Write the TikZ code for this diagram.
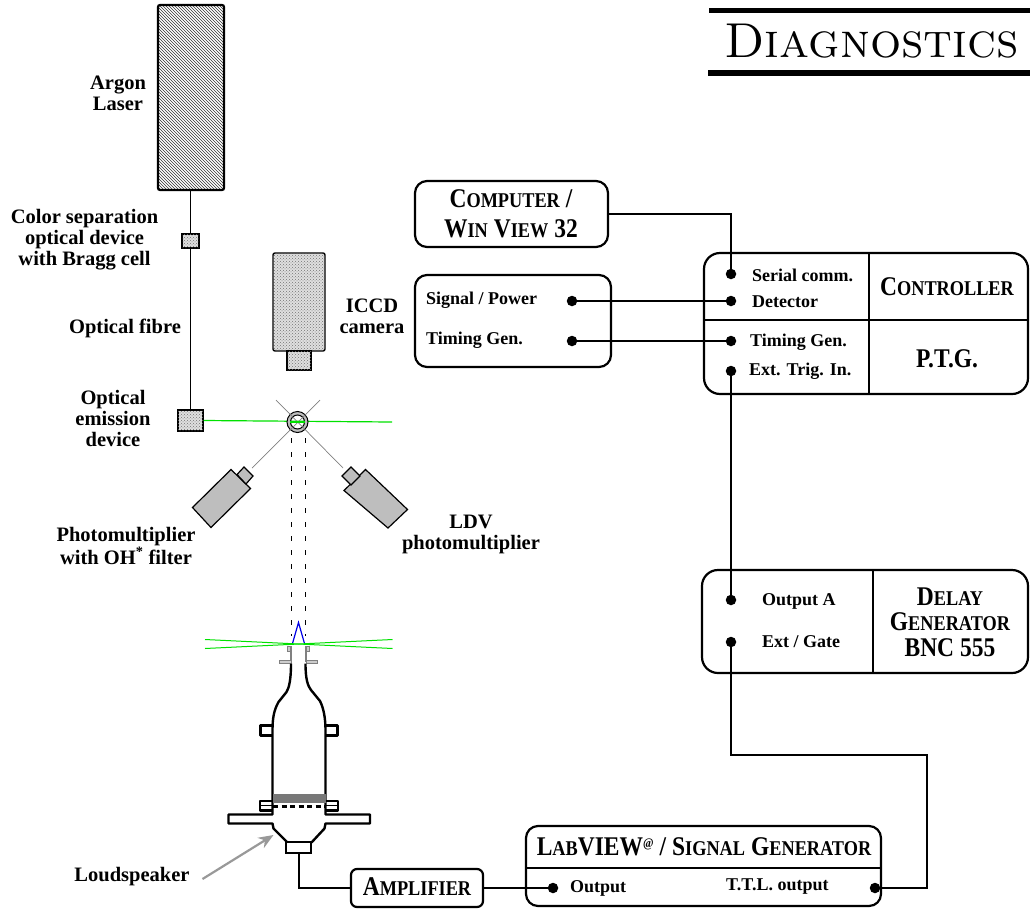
\documentclass[tikz,border=0pt]{standalone}
\usepackage{fontspec}
\usetikzlibrary{patterns, arrows.meta}
\newfontfamily\labelfont{Liberation Serif}
\newfontfamily\headfont[FakeStretch=0.87]{Liberation Serif}
\definecolor{lasergreen}{RGB}{0,225,0}
\definecolor{flameblue}{RGB}{0,0,230}
\definecolor{bodygray}{RGB}{190,190,190}
\definecolor{bandgray}{RGB}{120,120,120}
\newcommand{\headcaps}[2]{{\fontsize{27}{27}\selectfont #1}{\fontsize{21}{21}\selectfont #2}}
\newcommand{\headgap}{\hspace{6pt}}

\tikzset{
    panel/.style={draw, line width=2.2pt, rounded corners=12pt, inner sep=0pt},
    port/.style={circle, fill=black, inner sep=0pt, minimum size=10.5pt},
    wire/.style={line width=2pt},
    divider/.style={line width=1.8pt},
    caption/.style={font=\labelfont\bfseries\fontsize{20.5}{21}\selectfont, align=center, inner sep=0pt},
    portlabel/.style={font=\labelfont\bfseries\fontsize{18}{20}\selectfont, inner sep=0pt},
    heading/.style={font=\headfont\bfseries\fontsize{27}{30}\selectfont, align=center, inner sep=0pt},
    burner/.style={line width=2.4pt, line join=round},
    hatched/.style={draw, line width=1.2pt, fill=bodygray},
    dotted part/.style={draw, line width=1.4pt, fill=gray!25, postaction={pattern=crosshatch dots, pattern color=black!55}},
    beam/.style={line width=1pt, dash pattern=on 5pt off 9pt},
}

\begin{document}
\begin{tikzpicture}[x=1pt, y=-1pt]
    \useasboundingbox (0,0) rectangle (1030,908);

    % Title
    \fill (709,8) rectangle (1030,13);
    \fill (708,70) rectangle (1030,76);
    \node[inner sep=0pt, anchor=base west, font=\fontsize{49}{49}\selectfont\scshape] (title) at (724,57) {Diagnostics};

    % Argon laser and fibre
    \node[draw, line width=2.2pt, rounded corners=2pt, minimum width=66pt, minimum height=185pt, inner sep=0pt, pattern=north west lines, pattern color=black!80] (laser) at (191,97.5) {};
    \node[dotted part, minimum width=17pt, minimum height=14pt, inner sep=0pt] (bragg) at (190.5,241) {};
    \node[dotted part, minimum width=25pt, minimum height=21pt, inner sep=0pt] (emitter) at (190.5,420.5) {};
    \draw[line width=1.6pt] (bragg.north |- laser.south) -- (bragg.north);
    \draw[line width=1.6pt] (bragg) -- (bragg |- emitter.north);
    \node[caption] (argonlabel) at (118,93) {Argon\\Laser};
    \node[caption] (colorlabel) at (84.5,240) {Color separation\\optical device\\with Bragg cell};
    \node[caption] (fibrelabel) at (125,328) {Optical fibre};
    \node[caption] (emitlabel) at (113,418) {Optical\\emission\\device};

    % ICCD camera
    \node[dotted part, rounded corners=2pt, minimum width=52pt, minimum height=98pt, inner sep=0pt] (camera) at (299,302) {};
    \node[dotted part, minimum width=24pt, minimum height=19pt, inner sep=0pt] (lens) at (299,360.5) {};
    \node[caption] (iccdlabel) at (372,316) {ICCD\\camera};

    % Measurement point
    \draw[lasergreen, line width=1.2pt] (emitter.east) -- (392,422);
    \draw[line width=1pt, fill=bodygray, even odd rule] (297.5,422) circle (10.5pt) circle (7pt);
    \draw[gray, line width=0.7pt] (276,400) -- (343,468);
    \draw[gray, line width=0.7pt] (320,400) -- (252,468);
    \draw[lasergreen, line width=1.2pt] (290,422) -- (305,422);
    \draw[beam] (291.5,438) -- (291.5,636);
    \draw[beam] (305,438) -- (305,636);

    % Photomultipliers
    \draw[hatched] (231,469.5) -- (250.5,488.5) -- (211,527.5) -- (192.5,507.5) -- cycle;
    \draw[hatched] (244,467) -- (253,476) -- (246,484) -- (237,474.5) -- cycle;
    \draw[hatched] (365.5,469.5) -- (407.5,509.5) -- (388,528) -- (344,490.5) -- cycle;
    \draw[hatched] (351,467) -- (360,476) -- (351,485) -- (342,476) -- cycle;
    \node[caption] (pmlabel) at (126,546) {Photomultiplier\\with OH\textsuperscript{*} filter};
    \node[caption] (ldvlabel) at (471,534) {LDV\\photomultiplier};

    % Flame and laser sheet
    \draw[flameblue, line width=1.2pt] (292.5,643.5) -- (298.5,622.5) -- (304.5,643.5);
    \draw[lasergreen, line width=1pt] (205,639.5) -- (392.5,648.5);
    \draw[lasergreen, line width=1pt] (205,648.5) -- (392.5,639.5);

    % Nozzle tip
    \draw[gray, fill=gray!40, line width=0.8pt] (287.5,646) rectangle (291,651.5);
    \draw[gray, fill=gray!40, line width=0.8pt] (306,646) rectangle (309.5,651.5);
    \draw[gray, line width=1.2pt] (291,646) -- (291,662);
    \draw[gray, line width=1.2pt] (306,646) -- (306,662);
    \draw[gray, fill=gray!40, line width=0.8pt] (279.5,660) rectangle (291,663.5);
    \draw[gray, fill=gray!40, line width=0.8pt] (306,660) rectangle (317.5,663.5);

    % Burner
    \draw[burner] (291,663.5) .. controls (291,680) and (289,688) .. (286.5,692) -- (278.5,702) .. controls (274,710) and (272.5,718) .. (272.5,730) -- (272.5,814.5) -- (228.5,814.5) -- (228.5,823.5) -- (272.5,823.5) -- (273.5,828.5) -- (287.5,842.5);
    \draw[burner] (305.5,663.5) .. controls (305.5,680) and (308,686) .. (311,690) -- (320,701) .. controls (323.5,708) and (325.5,718) .. (325.5,730) -- (325.5,814.5) -- (370,814.5) -- (370,823.5) -- (325.5,823.5) -- (324.5,828.5) -- (311.5,842.5);
    \draw[burner] (272.5,725.5) -- (260.5,725.5) -- (260.5,735.5) -- (272.5,735.5);
    \draw[burner] (325.5,725.5) -- (337.5,725.5) -- (337.5,735.5) -- (325.5,735.5);
    \fill[bandgray] (272.5,793.5) rectangle (325.5,802.5);
    \draw[burner] (272.5,801) -- (260,801) -- (260,810.5) -- (272.5,810.5);
    \draw[burner] (325.5,801) -- (338,801) -- (338,810.5) -- (325.5,810.5);
    \draw[line width=1pt] (260,805) -- (272.5,805);
    \draw[line width=1pt] (325.5,805) -- (338,805);
    \draw[line width=2.2pt, dash pattern=on 5pt off 3.5pt] (273,806.5) -- (325,806.5);
    \node[draw, line width=1.6pt, minimum width=25pt, minimum height=10.5pt, inner sep=0pt] (speaker) at (298.5,847.5) {};
    \draw[line width=2.2pt, gray!80, -{Stealth[length=15pt, width=12pt]}] (202.5,879) -- (273.5,835);
    \node[caption] (speakerlabel) at (132,877) {Loudspeaker};

    % Computer
    \node[panel, minimum width=193pt, minimum height=66pt] (compbox) at (511.5,214) {};
    \node[heading] (complabel) at (511,214) {\headcaps{C}{OMPUTER}\headgap\headcaps{/}{}\\\headcaps{W}{IN}\headgap\headcaps{V}{IEW}\headgap\headcaps{32}{}};

    % Camera ports
    \node[panel, minimum width=196pt, minimum height=92pt] (campanel) at (513,321) {};
    \node[portlabel, anchor=west] (siglabel) at (426,300) {Signal / Power};
    \node[portlabel, anchor=west] (timelabel) at (426,340) {Timing Gen.};
    \node[port] (sigdot) at (572,301) {};
    \node[port] (timedot) at (572,341) {};

    % Controller and P.T.G.
    \node[panel, minimum width=324pt, minimum height=141pt, rounded corners=16pt] (ctrlbox) at (866,323.5) {};
    \draw[divider] (869,253) -- (869,394);
    \draw[divider] (704,320) -- (1028,320);
    \node[heading] (ctrllabel) at (947,287) {\headcaps{C}{ONTROLLER}};
    \node[heading] (ptglabel) at (947,359) {\headcaps{P.T.G.}{}};
    \node[port] (serialdot) at (731,274) {};
    \node[port] (detdot) at (731,301) {};
    \node[port] (ptgdot) at (731,341) {};
    \node[port] (extdot) at (731,371) {};
    \node[portlabel, anchor=west] (seriallabel) at (752,275) {Serial comm.};
    \node[portlabel, anchor=west] (detlabel) at (752,302) {Detector};
    \node[portlabel, anchor=west] (ptglabeltwo) at (750,342) {Timing Gen.};
    \node[portlabel, anchor=west] (extlabel) at (749,371) {Ext. Trig. In.};

    % Delay generator
    \node[panel, minimum width=326pt, minimum height=103pt, rounded corners=16pt] (delaybox) at (865,621.5) {};
    \draw[divider] (873,570) -- (873,673);
    \node[heading] (delaylabel) at (950,622) {\headcaps{D}{ELAY}\\[-4.5pt]\headcaps{G}{ENERATOR}\\[-4.5pt]\headcaps{BNC}{}\headgap\headcaps{555}{}};
    \node[port] (outadot) at (731,600) {};
    \node[port] (gatedot) at (731,642) {};
    \node[portlabel, anchor=west] (outalabel) at (762,601) {Output A};
    \node[portlabel, anchor=west] (gatelabel) at (762,642) {Ext / Gate};

    % LabVIEW and amplifier
    \node[panel, minimum width=355pt, minimum height=80pt] (labbox) at (703.5,866) {};
    \draw[divider] (526,868) -- (881,868);
    \node[heading] (lablabel) at (704,847) {\headcaps{L}{AB}\headcaps{VIEW}{}\raisebox{8pt}{\fontsize{13}{13}\selectfont @}\headgap\headcaps{/}{}\headgap\headcaps{S}{IGNAL}\headgap\headcaps{G}{ENERATOR}};
    \node[port] (outputdot) at (553,888) {};
    \node[port] (ttldot) at (875,888) {};
    \node[portlabel, anchor=west] (outputlabel) at (570,888) {Output};
    \node[portlabel, anchor=west] (ttllabel) at (726,887) {T.T.L. output};
    \node[panel, minimum width=132pt, minimum height=38pt, rounded corners=6pt] (ampbox) at (417,888) {};
    \node[heading] (amplabel) at (417,887) {\headcaps{A}{MPLIFIER}};

    % Connections
    \coordinate (ttlbend) at (927,755);
    \draw[wire] (compbox.east) -| (serialdot);
    \draw[wire] (sigdot) -- (detdot);
    \draw[wire] (timedot) -- (ptgdot);
    \draw[wire] (extdot) -- (outadot);
    \draw[wire] (gatedot) |- (ttlbend) |- (ttldot);
    \draw[wire] (ampbox.east) -- (outputdot);
    \draw[wire] (speaker.south) |- (ampbox.west);
\end{tikzpicture}
\end{document}
